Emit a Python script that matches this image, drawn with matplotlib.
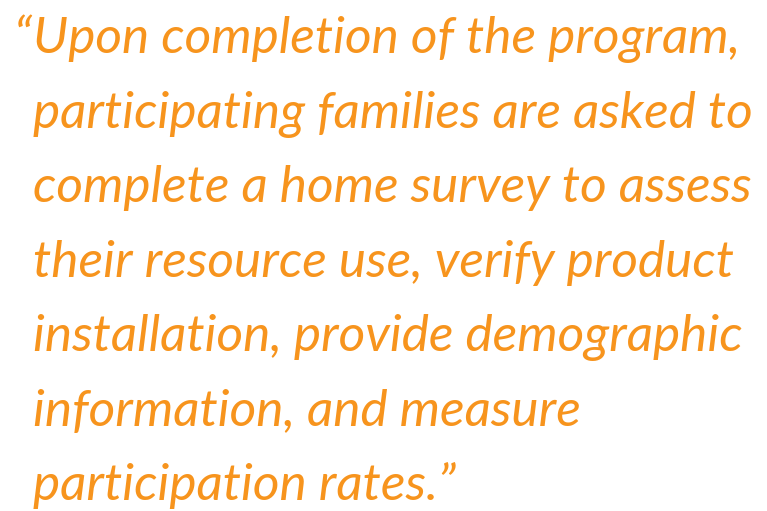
import matplotlib.pyplot as plt

lines = [
    "Upon completion of the program,",
    "participating families are asked to",
    "complete a home survey to assess",
    "their resource use, verify product",
    "installation, provide demographic",
    "information, and measure",
    "participation rates.\u201d",
]
open_quote = "\u201c"

W, H = 767, 511
color = "#F7941D"

fig = plt.figure(figsize=(W / 100, H / 100), dpi=100)
fig.patch.set_facecolor("white")

left = 33 / W
first_base = 53
step = 74.5
style = dict(fontsize=37, family="Lato", style="italic", color=color, va="baseline")

fig.text(left - 2 / W, 1 - first_base / H, open_quote, ha="right", **style)
for i, line in enumerate(lines):
    fig.text(left, 1 - (first_base + i * step) / H, line, ha="left", **style)

fig.savefig("out.png", dpi=100)
